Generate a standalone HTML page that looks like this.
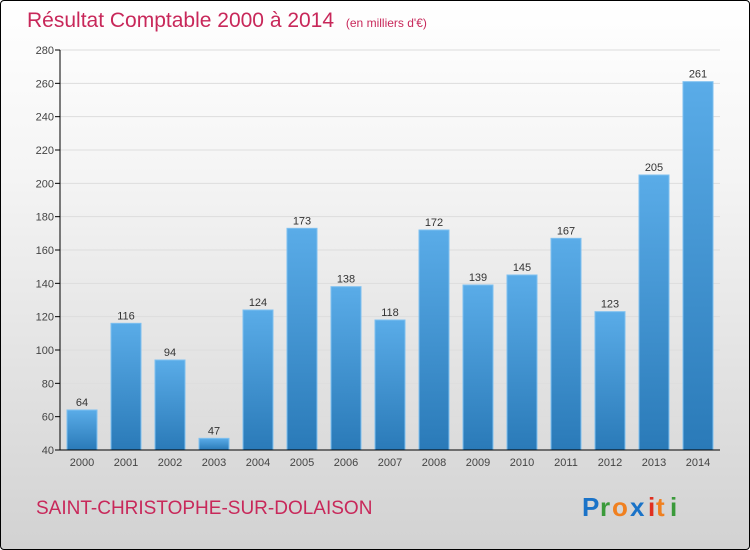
<!DOCTYPE html>
<html><head><meta charset="utf-8"><style>
body{margin:0;width:750px;height:550px;overflow:hidden;font-family:"Liberation Sans",sans-serif}
#wrap{position:absolute;left:0;top:0;width:748px;height:548px;border:1px solid #000;border-radius:4px;background:linear-gradient(#ffffff,#f5f5f5 30%,#d2d2d2)}
</style></head><body>
<div id="wrap">
<svg width="750" height="550" style="position:absolute;left:-1px;top:-1px">
<defs><linearGradient id="bg" x1="0" y1="0" x2="0" y2="1"><stop offset="0" stop-color="#5aace8"/><stop offset="1" stop-color="#2a7ab8"/></linearGradient></defs>
<text x="27" y="27" font-size="21" fill="#c8285a">Résultat Comptable 2000 à 2014 <tspan font-size="12" dx="6">(en milliers d'€)</tspan></text>
<g id="grid"></g><g id="bars"></g><g id="axes"></g>
<text x="36" y="514" font-size="19" fill="#c8285a">SAINT-CHRISTOPHE-SUR-DOLAISON</text>
<g font-size="26" font-weight="bold"><text x="582" y="516" fill="#1a73c8">P</text><text x="600" y="516" fill="#3a9a3a">r</text><text x="612" y="516" fill="#f08020">o</text><text x="630" y="516" fill="#1a73c8">x</text><text x="648" y="516" fill="#e03020">i</text><text x="656" y="516" fill="#f08020">t</text><text x="670" y="516" fill="#3a9a3a">i</text></g>
</svg></div>
<script>
const years=["2000","2001","2002","2003","2004","2005","2006","2007","2008","2009","2010","2011","2012","2013","2014"];
const values=[64,116,94,47,124,173,138,118,172,139,145,167,123,205,261];
const ticks=[40,60,80,100,120,140,160,180,200,220,240,260,280];
const NS="http://www.w3.org/2000/svg";
const x0=60,slot=44,yMin=40,yMax=280,yTop=50,yBot=450;
const y=v=>yBot-(v-yMin)/(yMax-yMin)*(yBot-yTop);
function mk(t,a,p){const e=document.createElementNS(NS,t);for(const k in a)e.setAttribute(k,a[k]);p.appendChild(e);return e;}
const G=document.getElementById('grid'),B=document.getElementById('bars'),A=document.getElementById('axes');
ticks.forEach(t=>{
 const l=mk('line',{x1:x0,x2:x0+slot*years.length,y1:y(t),y2:y(t),stroke:'#dddddd','stroke-width':1},G);
 
 
 const k=mk('line',{x1:x0-5,x2:x0,y1:y(t),y2:y(t),stroke:'#000'},A);
 
 
 const tx=mk('text',{x:x0-6,y:y(t)+4,'text-anchor':'end','font-size':11,fill:'#444'},A);tx.textContent=t;
 
 
});
years.forEach((yr,i)=>{
 const cx=x0+slot*i+slot/2,v=values[i];
 const r=mk('rect',{x:cx-15,y:y(v),width:30,height:yBot-y(v),fill:'url(#bg)',stroke:'#7ec0f0','stroke-width':1},B);
 
 
 const vl=mk('text',{x:cx,y:y(v)-4,'text-anchor':'middle','font-size':11,fill:'#333'},B);vl.textContent=v;
 
 
 const xl=mk('text',{x:cx,y:466,'text-anchor':'middle','font-size':11,fill:'#444'},A);xl.textContent=yr;
 
 
});
const ya=mk('line',{x1:x0,x2:x0,y1:yTop,y2:yBot,stroke:'#000'},A);


const xa=mk('line',{x1:x0,x2:x0+slot*years.length,y1:yBot,y2:yBot,stroke:'#000'},A);


</script>
</body></html>
